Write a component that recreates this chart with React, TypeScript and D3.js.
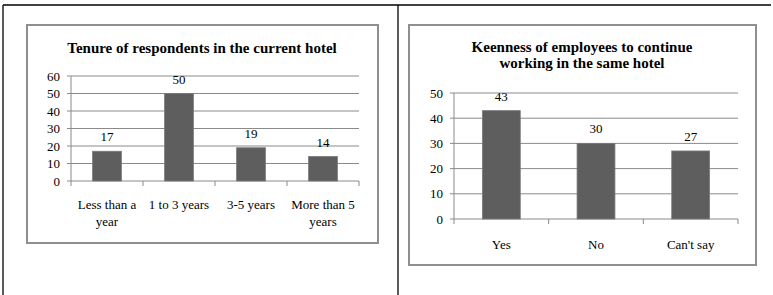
import React from "react";
import * as d3 from "d3";

const tenureCategories = [["Less than a", "year"], ["1 to 3 years"], ["3-5 years"], ["More than 5", "years"]];
const tenureValues = [17, 50, 19, 14];
const tenureTicks = [0, 10, 20, 30, 40, 50, 60];
const tenureTitle = ["Tenure of respondents in the current hotel"];

const keenCategories = [["Yes"], ["No"], ["Can't say"]];
const keenValues = [43, 30, 27];
const keenTicks = [0, 10, 20, 30, 40, 50];
const keenTitle = ["Keenness of employees to continue", "working in the same hotel"];

const FONT = "'Liberation Serif', 'Times New Roman', serif";

type ChartProps = {
  box: [number, number, number, number];
  titleLines: string[];
  titleX: number;
  titleY: number[];
  categories: string[][];
  values: number[];
  ticks: number[];
  plot: { x0: number; x1: number; y0: number; y1: number };
  catLabelY: number;
};

function BarChart(p: ChartProps) {
  const maxT = p.ticks[p.ticks.length - 1];
  const y = d3.scaleLinear().domain([0, maxT]).range([p.plot.y0, p.plot.y1]);
  const idx = p.values.map((_, i) => String(i));
  const x = d3.scaleBand().domain(idx).range([p.plot.x0, p.plot.x1]).paddingInner(0.6).paddingOuter(0.3);
  const step = x.step();
  const bandStarts = idx.map((i) => (x(i) as number) - step * 0.3);
  const [bx, by, bw, bh] = p.box;
  return (
    <g>
      <rect x={bx} y={by} width={bw} height={bh} fill="#fff" stroke="#8f8f8f" strokeWidth={2} />
      {p.titleLines.map((t, i) => (
        <text key={i} x={p.titleX} y={p.titleY[i]} textAnchor="middle" fontFamily={FONT} fontWeight="bold" fontSize={15} fill="#000">
          {t}
        </text>
      ))}
      {p.ticks.map((t) => (
        <g key={t}>
          {t > 0 && (
            <line x1={p.plot.x0} x2={p.plot.x1} y1={y(t)} y2={y(t)} stroke="#8a8a8a" strokeWidth={1} />
          )}
          <line x1={p.plot.x0 - 4} x2={p.plot.x0} y1={y(t)} y2={y(t)} stroke="#8a8a8a" strokeWidth={1} />
          <text x={p.plot.x0 - 11} y={y(t) + 4.5} textAnchor="end" fontFamily={FONT} fontSize={13} fill="#000">
            {t}
          </text>
        </g>
      ))}
      <line x1={p.plot.x0} x2={p.plot.x0} y1={p.plot.y1} y2={p.plot.y0} stroke="#8a8a8a" strokeWidth={1} />
      <line x1={p.plot.x0} x2={p.plot.x1} y1={p.plot.y0} y2={p.plot.y0} stroke="#8a8a8a" strokeWidth={1} />
      {[...bandStarts, p.plot.x1].map((bx2, i) => (
        <line key={i} x1={bx2} x2={bx2} y1={p.plot.y0} y2={p.plot.y0 + 5} stroke="#8a8a8a" strokeWidth={1} />
      ))}
      {p.values.map((v, i) => (
        <g key={i}>
          <rect x={x(String(i))} y={y(v)} width={x.bandwidth()} height={p.plot.y0 - y(v)} fill="#5e5e5e" stroke="#7a7a7a" strokeWidth={0.8} />
          <text x={(x(String(i)) as number) + x.bandwidth() / 2} y={y(v) - 10} textAnchor="middle" fontFamily={FONT} fontSize={13} fill="#000">
            {v}
          </text>
          {p.categories[i].map((line, j) => (
            <text key={j} x={(x(String(i)) as number) + x.bandwidth() / 2} y={p.catLabelY + j * 16.5} textAnchor="middle" fontFamily={FONT} fontSize={13} fill="#000">
              {line}
            </text>
          ))}
        </g>
      ))}
    </g>
  );
}

export default function App() {
  return (
    <svg width={773} height={295} style={{ position: "absolute", left: 0, top: 0, background: "#fff" }}>
      <rect x={0} y={0} width={773} height={295} fill="#fff" />
      <line x1={3} x2={771} y1={5} y2={5} stroke="#000" strokeWidth={1.3} />
      <line x1={3} x2={3} y1={5} y2={295} stroke="#000" strokeWidth={1.3} />
      <line x1={398} x2={398} y1={5} y2={295} stroke="#000" strokeWidth={1.3} />
      <BarChart
        box={[27, 25, 351, 218]}
        titleLines={tenureTitle}
        titleX={202}
        titleY={[53]}
        categories={tenureCategories}
        values={tenureValues}
        ticks={tenureTicks}
        plot={{ x0: 71, x1: 359, y0: 181, y1: 76 }}
        catLabelY={209}
      />
      <BarChart
        box={[409, 25, 347, 240]}
        titleLines={keenTitle}
        titleX={582}
        titleY={[52, 68]}
        categories={keenCategories}
        values={keenValues}
        ticks={keenTicks}
        plot={{ x0: 454, x1: 738, y0: 219, y1: 93 }}
        catLabelY={249}
      />
    </svg>
  );
}
